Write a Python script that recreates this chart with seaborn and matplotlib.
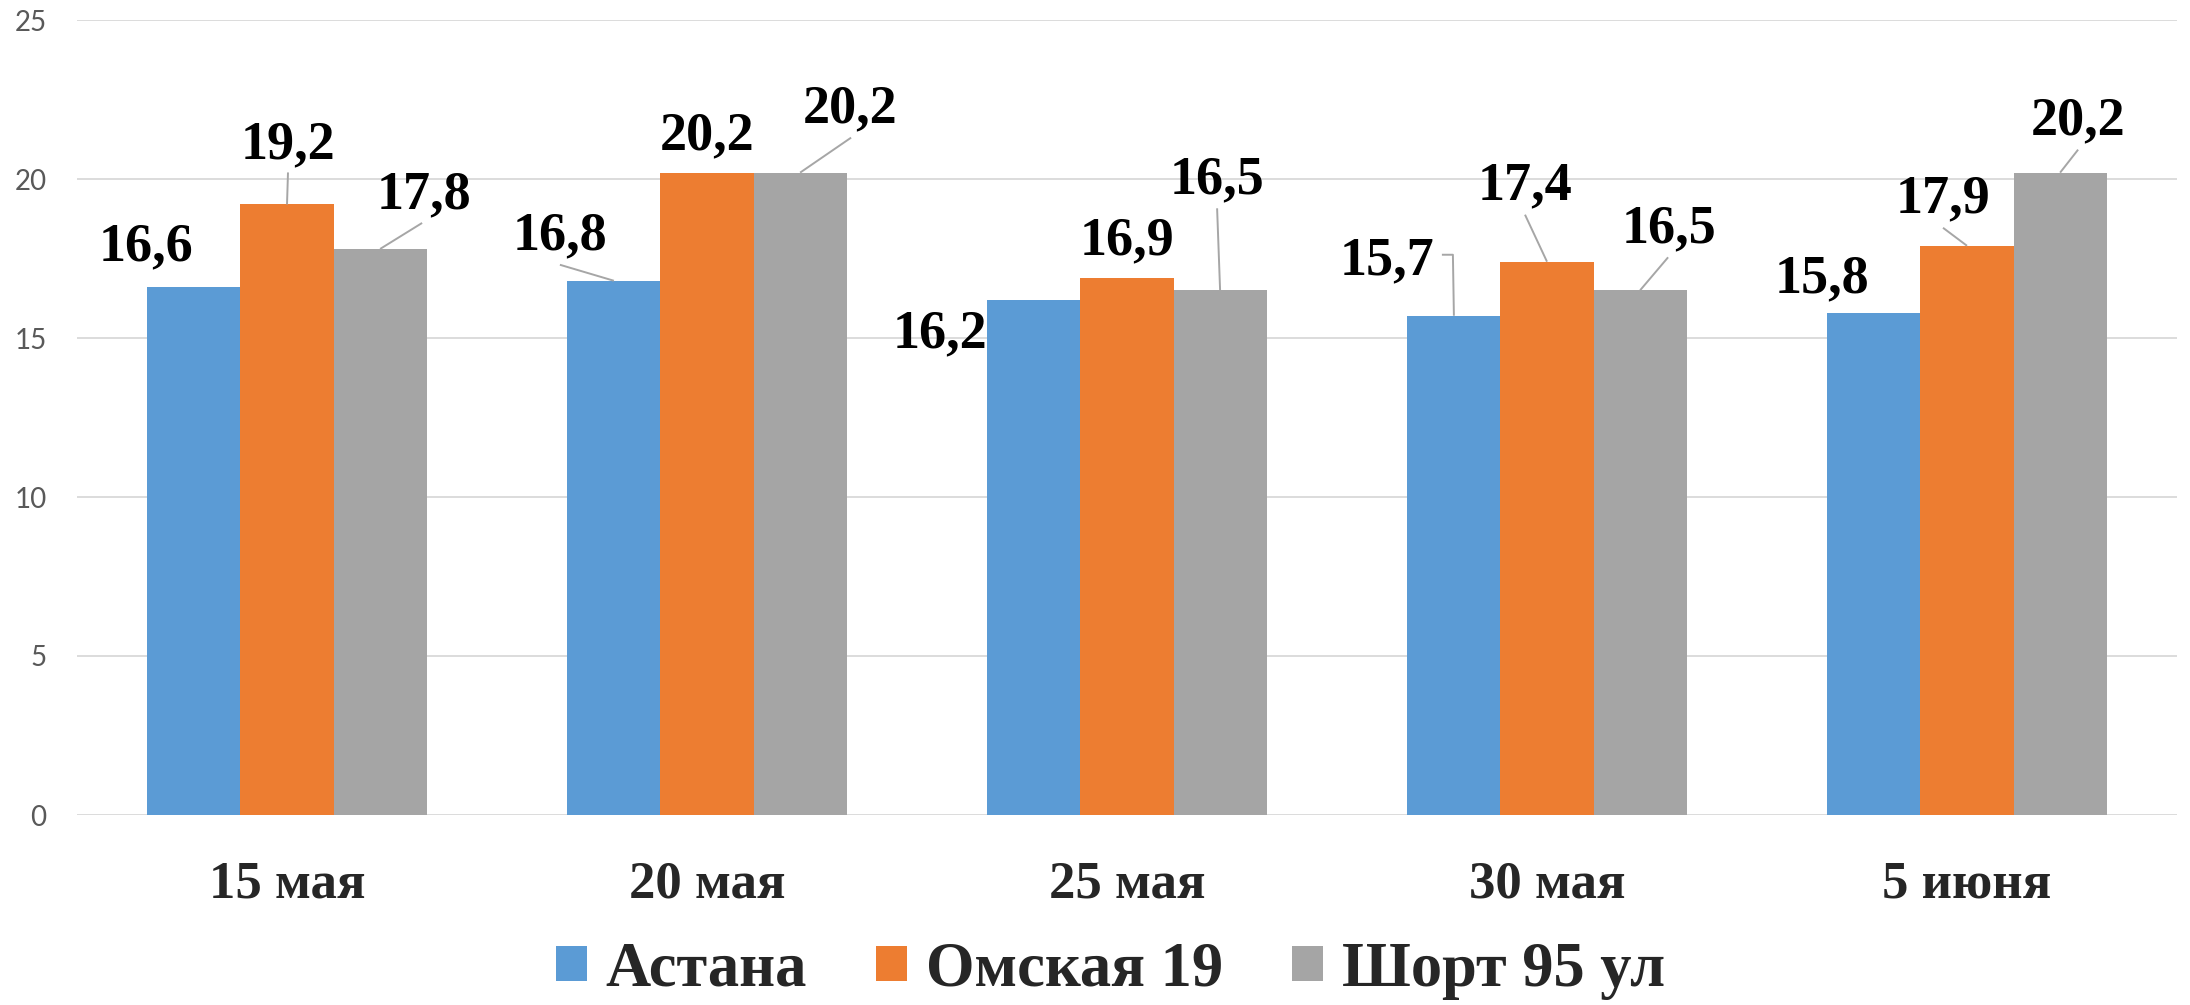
import pandas as pd
import numpy as np
import matplotlib
matplotlib.use('Agg')
import matplotlib.pyplot as plt
import seaborn as sns

# ── Data ──────────────────────────────────────────────────────────────────────
dates  = ['15 мая', '20 мая', '25 мая', '30 мая', '5 июня']
sites  = ['Астана', 'Омская 19', 'Шорт 95 ул']
astana = [16.6, 16.8, 16.2, 15.7, 15.8]
omsk   = [19.2, 20.2, 16.9, 17.4, 17.9]
short  = [17.8, 20.2, 16.5, 16.5, 20.2]

COLORS = ['#5B9BD5', '#ED7D31', '#A5A5A5']
GRID   = '#D9D9D9'
LEADER = '#A6A6A6'
SERIF  = 'Liberation Serif'

df = pd.DataFrame({
    'date': dates * 3,
    'site': [s for s in sites for _ in dates],
    'value': astana + omsk + short,
})

# label offsets from bar top (pixels: right, up) and leader-line paths
label_off = [
    [(-48, 27), (-54, 31), (-94, -48), (-67, 41), (-52, 20)],
    [(1, 46), (0, 23), (0, 23), (-22, 62), (-24, 33)],
    [(44, 41), (50, 50), (-3, 97), (29, 48), (18, 38)],
]
leaders = [
    [None, [(0, 0), (-54, 16)], None, [(0, 0), (-1, 61), (-12, 61)], None],
    [[(0, 0), (1, 32)], None, None, [(0, 0), (-22, 47)], [(0, 0), (-24, 18)]],
    [[(0, 0), (42, 26)], [(0, 0), (51, 35)], [(0, 0), (-3, 82)], [(0, 0), (28, 33)], [(0, 0), (18, 23)]],
]

# ── Plot ──────────────────────────────────────────────────────────────────────
sns.set_style('white')
fig = plt.figure(figsize=(21.9, 10.05), dpi=100)
ax = fig.add_axes([77 / 2190, 1 - 815 / 1005, 2100 / 2190, 795 / 1005])

sns.barplot(data=df, x='date', y='value', hue='site', palette=COLORS,
            saturation=1, width=0.665, linewidth=0, ax=ax, errorbar=None)

ax.set_xlim(-0.5, len(dates) - 0.5)
ax.set_ylim(0, 25)
ax.set_yticks(np.arange(0, 26, 5))
ax.set_xticks(range(len(dates)), dates, fontsize=38, fontweight='bold', family=SERIF)
ax.yaxis.grid(True, color=GRID, linewidth=1.3)
ax.set_axisbelow(True)
for s in ax.spines.values():
    s.set_visible(False)
ax.set_xlabel('')
ax.set_ylabel('')
ax.tick_params(axis='y', length=0, pad=22, labelsize=20, labelcolor='#595959')
ax.tick_params(axis='x', length=0, pad=33)
for t in ax.get_yticklabels():
    t.set_fontfamily('Lato')

PX_X = (len(dates)) / 2100
PX_Y = 25 / 795

for h, cont in enumerate(ax.containers):
    vals = [astana, omsk, short][h]
    for i, bar in enumerate(cont):
        bx = bar.get_x() + bar.get_width() / 2
        by = bar.get_height()
        dx, dy = label_off[h][i]
        ax.text(bx + dx * PX_X, by + dy * PX_Y, f'{vals[i]:.1f}'.replace('.', ','),
                ha='center', va='baseline', fontsize=39, fontweight='bold',
                family=SERIF, color='black')
        path = leaders[h][i]
        if path:
            xs = [bx + p[0] * PX_X for p in path]
            ys = [by + p[1] * PX_Y for p in path]
            ax.plot(xs, ys, color=LEADER, linewidth=1.4, solid_capstyle='butt')

handles, labels = ax.get_legend_handles_labels()
ax.legend(handles, labels, loc='center', bbox_to_anchor=(0.507, 0.034),
          bbox_transform=fig.transFigure, ncol=3, frameon=False,
          prop={'family': SERIF, 'weight': 'bold', 'size': 45},
          handlelength=0.5, handleheight=0.5, handletextpad=0.3,
          columnspacing=1.1)

fig.savefig('out.png', dpi=100, facecolor='white')
